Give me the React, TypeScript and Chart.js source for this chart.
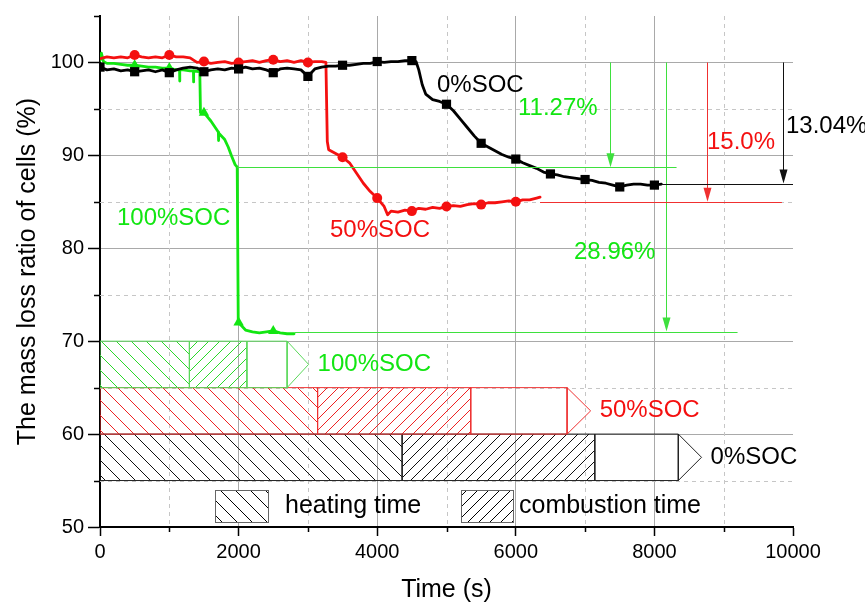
import React, { useEffect, useRef } from 'react';
import { Chart, registerables } from 'chart.js';

Chart.register(...registerables);

const FONT = '"Liberation Sans", Arial, Helvetica, sans-serif';
const GREEN = '#12e612';
const RED = '#f41010';
const BLACK = '#000000';

// axis ticks
const xMajorTicks = [0, 2000, 4000, 6000, 8000, 10000];
const xMinorTicks = [1000, 3000, 5000, 7000, 9000];
const yMajorTicks = [50, 60, 70, 80, 90, 100];
const yMinorTicks = [55, 65, 75, 85, 95, 105];

// 0% SOC cell: time (s) and remaining mass ratio (%)
const soc0Time = [0, 100, 200, 300, 400, 500, 600, 700, 800, 900, 1000, 1100, 1200, 1300, 1400, 1500, 1600, 1700, 1800, 1900, 2000, 2100, 2200, 2300, 2400, 2500, 2600, 2700, 2800, 2900, 3000, 3100, 3200, 3300, 3400, 3500, 3600, 3700, 3800, 3900, 4000, 4100, 4200, 4300, 4400, 4500, 4560, 4600, 4650, 4700, 4800, 4900, 5000, 5100, 5200, 5300, 5400, 5500, 5600, 5700, 5800, 5900, 6000, 6100, 6200, 6300, 6400, 6500, 6600, 6700, 6800, 6900, 7000, 7100, 7200, 7300, 7400, 7500, 7600, 7700, 7800, 7900, 8000, 8100];
const soc0Mass = [99.5, 99.2, 99.3, 99.1, 99.2, 99.0, 99.1, 99.2, 99.0, 99.2, 98.9, 99.2, 99.4, 99.5, 99.4, 99.0, 99.2, 99.3, 99.2, 99.4, 99.3, 99.5, 99.3, 99.4, 99.2, 98.9, 99.3, 99.4, 99.3, 99.2, 98.5, 99.3, 99.5, 99.6, 99.6, 99.7, 99.7, 99.8, 99.9, 99.9, 100.1, 100.0, 100.1, 100.1, 100.2, 100.2, 100.1, 99.2, 97.6, 96.6, 96.0, 95.8, 95.5, 94.8, 93.9, 93.0, 92.1, 91.3, 90.9, 90.5, 90.1, 89.8, 89.6, 89.2, 88.9, 88.6, 88.2, 88.0, 87.9, 87.7, 87.6, 87.5, 87.4, 87.3, 87.1, 87.0, 86.8, 86.6, 86.8, 86.9, 86.9, 86.8, 86.8, 86.9];

// 50% SOC cell
const soc50Time = [0, 100, 200, 300, 400, 500, 600, 700, 800, 900, 1000, 1100, 1200, 1300, 1400, 1500, 1600, 1700, 1800, 1900, 2000, 2100, 2200, 2300, 2400, 2500, 2600, 2700, 2800, 2900, 3000, 3100, 3200, 3260, 3280, 3300, 3400, 3500, 3600, 3700, 3800, 3900, 4000, 4100, 4150, 4200, 4300, 4400, 4500, 4600, 4700, 4800, 4900, 5000, 5100, 5200, 5300, 5400, 5500, 5600, 5700, 5800, 5900, 6000, 6100, 6200, 6300, 6350];
const soc50Mass = [100.4, 100.6, 100.5, 100.6, 100.5, 100.8, 100.6, 100.5, 100.6, 100.5, 100.8, 100.6, 100.6, 100.5, 100.0, 100.1, 99.9, 100.0, 100.1, 99.9, 100.0, 100.1, 100.2, 100.0, 100.2, 100.3, 100.1, 100.2, 100.0, 100.2, 100.0, 100.1, 100.1, 100.0, 91.5, 90.6, 90.2, 89.8, 89.2, 88.1, 87.0, 86.1, 85.4, 84.5, 83.6, 84.0, 83.9, 84.1, 84.0, 84.3, 84.2, 84.4, 84.3, 84.5, 84.6, 84.5, 84.7, 84.8, 84.7, 84.9, 84.9, 85.0, 85.1, 85.0, 85.2, 85.2, 85.4, 85.5];

// 100% SOC cell
const soc100Time = [0, 20, 50, 100, 200, 300, 400, 500, 600, 700, 800, 900, 1000, 1100, 1148, 1150, 1152, 1200, 1300, 1348, 1350, 1352, 1440, 1450, 1500, 1600, 1700, 1708, 1710, 1712, 1800, 1850, 1900, 1950, 1980, 1995, 2000, 2100, 2200, 2300, 2400, 2500, 2600, 2700, 2800];
const soc100Mass = [100.2, 101.0, 100.1, 99.9, 99.9, 99.8, 99.7, 99.7, 99.6, 99.5, 99.5, 99.4, 99.4, 99.2, 99.2, 98.0, 99.2, 99.2, 99.1, 99.1, 97.9, 99.1, 99.0, 94.6, 94.6, 93.7, 92.6, 92.5, 91.6, 92.4, 91.7, 90.9, 89.9, 89.0, 88.73, 72.1, 72.0, 71.2, 71.0, 70.9, 71.0, 71.1, 70.9, 70.8, 70.8];

// stage bars: heating, combustion, then remaining time (arrow)
const barLabels = ['100%SOC', '50%SOC', '0%SOC'];
const barBottom = [65, 60, 55];
const barTop = [70, 65, 60];
const heatingEnd = [1290, 3140, 4360];
const combustionEnd = [2120, 5350, 7140];
const boxEnd = [2700, 6740, 8345];
const arrowTip = [3010, 7080, 8680];

// total mass loss (%) of each cell
const dropLabels = ['11.27', '28.96', '15.0', '13.04'];
const dropArrowTime = [7360, 8170, 8760, 9850];
const dropLineStart = [1980, 2810, 6350, 8100];
const dropLineEnd = [8320, 9200, 9840, 10000];
const dropTextPos = [[6032, 95.05], [6840, 79.6], [8759, 91.4], [9899, 93.1]];

const curveLabels = ['100%SOC', '50%SOC', '0%SOC'];
const curveLabelPos = [[245, 83.2], [3319, 81.9], [4863, 97.5]];

const legendLabels = ['heating time', 'combustion time'];
const legendBoxes = [[1660, 2424], [5209, 5960]];
const legendBoxV = [50.57, 53.98];
const legendTextT = [2670, 6046];

const seriesColor = [GREEN, RED, BLACK];
const dropColor = [GREEN, GREEN, RED, BLACK];
const dropLineColor = ['#3ee03e', '#3ee03e', '#f03030', '#111111'];

function hatch(color: string, size: number, back: boolean): CanvasPattern | string {
  const c = document.createElement('canvas');
  c.width = size;
  c.height = size;
  const g = c.getContext('2d');
  if (!g) return 'transparent';
  g.strokeStyle = color;
  g.lineWidth = 1;
  g.beginPath();
  if (back) {
    g.moveTo(-1, -1); g.lineTo(size + 1, size + 1);
    g.moveTo(-1, size - 1); g.lineTo(1, size + 1);
    g.moveTo(size - 1, -1); g.lineTo(size + 1, 1);
  } else {
    g.moveTo(-1, size + 1); g.lineTo(size + 1, -1);
    g.moveTo(-1, 1); g.lineTo(1, -1);
    g.moveTo(size - 1, size + 1); g.lineTo(size + 1, size - 1);
  }
  g.stroke();
  return g.createPattern(c, 'repeat') || 'transparent';
}

const decor = {
  id: 'decor',
  beforeDatasetsDraw(chart: any) {
    const { ctx, chartArea: a, scales } = chart;
    const x = scales.x;
    const y = scales.y;
    ctx.save();
    ctx.lineWidth = 1;
    ctx.strokeStyle = '#c6c6c6';
    ctx.setLineDash([4, 4]);
    ctx.beginPath();
    for (const t of xMinorTicks) {
      const px = Math.round(x.getPixelForValue(t)) + 0.5;
      ctx.moveTo(px, a.top);
      ctx.lineTo(px, a.bottom);
    }
    for (const v of yMinorTicks) {
      if (v >= y.max) continue;
      const py = Math.round(y.getPixelForValue(v)) + 0.5;
      ctx.moveTo(a.left, py);
      ctx.lineTo(a.right, py);
    }
    ctx.stroke();
    ctx.setLineDash([]);
    ctx.strokeStyle = '#000';
    ctx.lineWidth = 1.5;
    ctx.beginPath();
    for (const t of xMinorTicks) {
      const px = Math.round(x.getPixelForValue(t)) + 0.5;
      ctx.moveTo(px, a.bottom);
      ctx.lineTo(px, a.bottom + 5);
    }
    for (const v of yMinorTicks) {
      const py = Math.round(y.getPixelForValue(v)) + 0.5;
      ctx.moveTo(a.left - 6, py);
      ctx.lineTo(a.left, py);
    }
    ctx.stroke();
    ctx.restore();
  },
  afterDatasetsDraw(chart: any) {
    const { ctx, scales } = chart;
    const x = scales.x;
    const y = scales.y;
    ctx.save();

    // mass-loss levels and arrows
    dropLabels.forEach((lab, i) => {
      const level = 100 - parseFloat(lab);
      ctx.strokeStyle = dropLineColor[i];
      ctx.fillStyle = dropLineColor[i];
      ctx.lineWidth = 1;
      const ly = Math.round(y.getPixelForValue(level)) + 0.5;
      ctx.beginPath();
      ctx.moveTo(x.getPixelForValue(dropLineStart[i]), ly);
      ctx.lineTo(x.getPixelForValue(dropLineEnd[i]), ly);
      ctx.stroke();
      const ax = Math.round(x.getPixelForValue(dropArrowTime[i])) + 0.5;
      const ay0 = y.getPixelForValue(100);
      const ay1 = y.getPixelForValue(level);
      ctx.beginPath();
      ctx.moveTo(ax, ay0);
      ctx.lineTo(ax, ay1 - 6);
      ctx.stroke();
      ctx.beginPath();
      ctx.moveTo(ax - 4, ay1 - 14);
      ctx.lineTo(ax + 4, ay1 - 14);
      ctx.lineTo(ax, ay1);
      ctx.closePath();
      ctx.fill();

      ctx.fillStyle = dropColor[i];
      ctx.font = `24px ${FONT}`;
      ctx.textAlign = 'left';
      ctx.textBaseline = 'middle';
      ctx.fillText(`${lab}%`, x.getPixelForValue(dropTextPos[i][0]), y.getPixelForValue(dropTextPos[i][1]));
    });

    // curve labels
    ctx.font = `24px ${FONT}`;
    ctx.textAlign = 'left';
    ctx.textBaseline = 'middle';
    curveLabels.forEach((lab, i) => {
      ctx.fillStyle = seriesColor[i];
      ctx.fillText(lab, x.getPixelForValue(curveLabelPos[i][0]), y.getPixelForValue(curveLabelPos[i][1]));
    });

    // stage bar labels
    barLabels.forEach((lab, i) => {
      ctx.fillStyle = seriesColor[i];
      const mid = (barTop[i] + barBottom[i]) / 2;
      ctx.fillText(lab, x.getPixelForValue(arrowTip[i] + 130), y.getPixelForValue(mid));
    });

    // legend
    const pats = [hatch('#000', 15, true), hatch('#000', 11, false)];
    legendLabels.forEach((lab, i) => {
      const x0 = Math.round(x.getPixelForValue(legendBoxes[i][0])) + 0.5;
      const x1 = Math.round(x.getPixelForValue(legendBoxes[i][1])) + 0.5;
      const y0 = Math.round(y.getPixelForValue(legendBoxV[1])) + 0.5;
      const y1 = Math.round(y.getPixelForValue(legendBoxV[0])) + 0.5;
      ctx.fillStyle = '#fff';
      ctx.fillRect(x0, y0, x1 - x0, y1 - y0);
      ctx.fillStyle = pats[i];
      ctx.fillRect(x0, y0, x1 - x0, y1 - y0);
      ctx.strokeStyle = '#666';
      ctx.lineWidth = 1;
      ctx.strokeRect(x0, y0, x1 - x0, y1 - y0);
      ctx.fillStyle = '#000';
      ctx.font = `25px ${FONT}`;
      ctx.fillText(lab, x.getPixelForValue(legendTextT[i]), (y0 + y1) / 2);
    });

    ctx.restore();
  },
};

function series(times: number[], mass: number[], color: string, style: string, radius: number, markFromZero: boolean) {
  return {
    type: 'line',
    data: times.map((t, i) => ({ x: t, y: mass[i] })),
    borderColor: color,
    backgroundColor: color,
    borderWidth: 2.8,
    borderJoinStyle: 'round',
    borderCapStyle: 'round',
    fill: false,
    tension: 0,
    pointStyle: style,
    pointRadius: (c: any) => {
      const r = c.raw;
      if (!r) return 0;
      return r.x % 500 === 0 && (markFromZero || r.x > 0) ? radius : 0;
    },
    pointBackgroundColor: color,
    pointBorderColor: color,
    pointBorderWidth: 0,
    order: 0,
  };
}

export default function App() {
  const ref = useRef<HTMLCanvasElement | null>(null);

  useEffect(() => {
    const canvas = ref.current;
    if (!canvas) return;

    const heatPats = [hatch('#2ad82a', 15, true), hatch('#ee2222', 15, true), hatch('#111', 15, true)];
    const combPats = [hatch('#2ad82a', 11, false), hatch('#ee2222', 11, false), hatch('#111', 11, false)];
    const outline = ['#5ad85a', '#ee3030', '#222'];

    const barSets: any[] = [];
    barLabels.forEach((_, i) => {
      const top = barTop[i];
      const bot = barBottom[i];
      const mid = (top + bot) / 2;
      barSets.push({
        type: 'line',
        data: [{ x: 0, y: top }, { x: heatingEnd[i], y: top }],
        fill: { value: bot },
        backgroundColor: heatPats[i],
        borderColor: 'rgba(0,0,0,0)',
        borderWidth: 0,
        pointRadius: 0,
        order: 20,
      });
      barSets.push({
        type: 'line',
        data: [{ x: heatingEnd[i], y: top }, { x: combustionEnd[i], y: top }],
        fill: { value: bot },
        backgroundColor: combPats[i],
        borderColor: 'rgba(0,0,0,0)',
        borderWidth: 0,
        pointRadius: 0,
        order: 20,
      });
      barSets.push({
        type: 'line',
        data: [
          { x: 0, y: top }, { x: boxEnd[i], y: top }, { x: arrowTip[i], y: mid }, { x: boxEnd[i], y: bot }, { x: 0, y: bot }, { x: 0, y: top },
          { x: 0, y: null },
          { x: heatingEnd[i], y: top }, { x: heatingEnd[i], y: bot },
          { x: heatingEnd[i], y: null },
          { x: combustionEnd[i], y: top }, { x: combustionEnd[i], y: bot },
          { x: combustionEnd[i], y: null },
          { x: boxEnd[i], y: top }, { x: boxEnd[i], y: bot },
        ],
        fill: false,
        borderColor: outline[i],
        borderWidth: 1,
        pointRadius: 0,
        spanGaps: false,
        order: 19,
      });
    });

    const tickFont = { family: FONT, size: 20 };
    const titleFont = { family: FONT, size: 25, lineHeight: 1.2 };

    const chart = new Chart(canvas, {
      type: 'line',
      data: {
        datasets: [
          series(soc0Time, soc0Mass, BLACK, 'rect', 6.5, true),
          series(soc50Time, soc50Mass, RED, 'circle', 5, false),
          series(soc100Time, soc100Mass, GREEN, 'triangle', 6, false),
          ...barSets,
        ] as any,
      },
      options: {
        responsive: false,
        animation: false,
        devicePixelRatio: 1,
        events: [],
        layout: { padding: { left: 0, right: 72, top: 15, bottom: 0 } },
        plugins: { legend: { display: false }, tooltip: { enabled: false } },
        scales: {
          x: {
            type: 'linear',
            min: 0,
            max: 10000,
            afterBuildTicks: (s: any) => { s.ticks = xMajorTicks.map((v) => ({ value: v })); },
            ticks: { font: tickFont, color: '#000', padding: 4, maxRotation: 0, autoSkip: false, callback: (v: any) => String(v) },
            grid: {
              color: (c: any) => (c.tick && c.tick.value > 0 && c.tick.value < 10000 ? '#a9a9a9' : 'rgba(0,0,0,0)'),
              tickColor: '#000',
              tickWidth: 1.5,
              tickLength: 9,
              lineWidth: 1,
            },
            border: { display: true, color: '#000', width: 2 },
            title: { display: true, text: 'Time (s)', font: { family: FONT, size: 25, lineHeight: 1 }, color: '#000', padding: { top: 0, bottom: 2 } },
            afterFit: (s: any) => { s.height = 78; },
          },
          y: {
            type: 'linear',
            min: 50,
            max: 105,
            afterBuildTicks: (s: any) => { s.ticks = yMajorTicks.map((v) => ({ value: v })); },
            ticks: { font: tickFont, color: '#000', padding: 4, autoSkip: false, callback: (v: any) => String(v) },
            grid: {
              color: (c: any) => (c.tick && c.tick.value > 50 ? '#a9a9a9' : 'rgba(0,0,0,0)'),
              tickColor: '#000',
              tickWidth: 1.5,
              tickLength: 12,
              lineWidth: 1,
            },
            border: { display: true, color: '#000', width: 2 },
            title: { display: true, text: 'The mass loss ratio of cells (%)', font: titleFont, color: '#000', padding: { top: 13, bottom: 0 } },
            afterFit: (s: any) => { s.width = 100; },
          },
        },
      } as any,
      plugins: [decor],
    });

    return () => chart.destroy();
  }, []);

  return (
    <div style={{ position: 'fixed', left: 0, top: 0, width: 865, height: 605, background: '#fff' }}>
      <canvas ref={ref} width={865} height={605} style={{ display: 'block' }} />
    </div>
  );
}
